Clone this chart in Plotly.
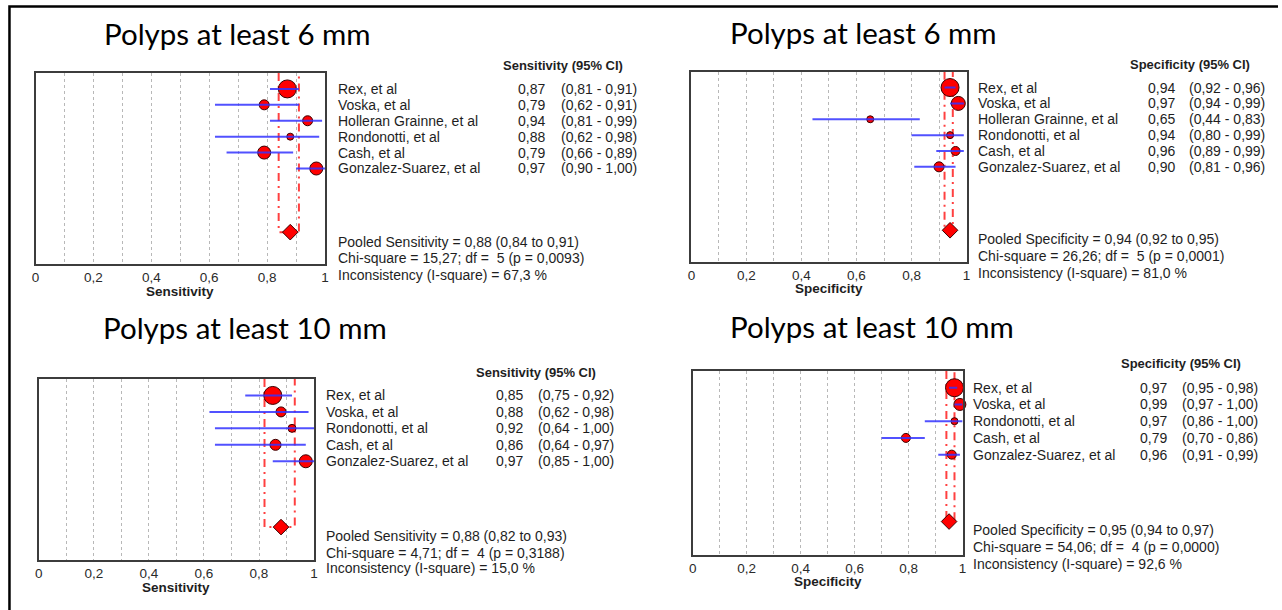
import plotly.graph_objects as go

W, H = 1282, 610

# ---------------- data ----------------
studies_6mm = ["Rex, et al", "Voska, et al", "Holleran Grainne, et al",
               "Rondonotti, et al", "Cash, et al", "Gonzalez-Suarez, et al"]
studies_10mm = ["Rex, et al", "Voska, et al", "Rondonotti, et al",
                "Cash, et al", "Gonzalez-Suarez, et al"]

sens_6mm = [0.87, 0.79, 0.94, 0.88, 0.79, 0.97]
sens_6mm_lo = [0.81, 0.62, 0.81, 0.62, 0.66, 0.90]
sens_6mm_hi = [0.91, 0.91, 0.99, 0.98, 0.89, 1.00]
weight_sens_6mm = [18, 10, 10, 7, 13, 13]
pooled_sens_6mm = [0.88, 0.84, 0.91]
stats_sens_6mm = [15.27, 5, 0.0093, 67.3]   # chi-square, df, p, I-square

spec_6mm = [0.94, 0.97, 0.65, 0.94, 0.96, 0.90]
spec_6mm_lo = [0.92, 0.94, 0.44, 0.80, 0.89, 0.81]
spec_6mm_hi = [0.96, 0.99, 0.83, 0.99, 0.99, 0.96]
weight_spec_6mm = [18, 14, 7, 7, 9, 10]
pooled_spec_6mm = [0.94, 0.92, 0.95]
stats_spec_6mm = [26.26, 5, 0.0001, 81.0]

sens_10mm = [0.85, 0.88, 0.92, 0.86, 0.97]
sens_10mm_lo = [0.75, 0.62, 0.64, 0.64, 0.85]
sens_10mm_hi = [0.92, 0.98, 1.00, 0.97, 1.00]
weight_sens_10mm = [18, 10, 8, 11, 13]
pooled_sens_10mm = [0.88, 0.82, 0.93]
stats_sens_10mm = [4.71, 4, 0.3188, 15.0]

spec_10mm = [0.97, 0.99, 0.97, 0.79, 0.96]
spec_10mm_lo = [0.95, 0.97, 0.86, 0.70, 0.91]
spec_10mm_hi = [0.98, 1.00, 1.00, 0.86, 0.99]
weight_spec_10mm = [18, 12, 7, 9, 9]
pooled_spec_10mm = [0.95, 0.94, 0.97]
stats_spec_10mm = [54.06, 4, 0.0000, 92.6]

tick_vals = [0, 0.2, 0.4, 0.6, 0.8, 1]
tick_text = ["0", "0,2", "0,4", "0,6", "0,8", "1"]

panels = [
    dict(title="Polyps at least 6 mm", measure="Sensitivity", names=studies_6mm,
         est=sens_6mm, lo=sens_6mm_lo, hi=sens_6mm_hi, w=weight_sens_6mm,
         pooled=pooled_sens_6mm, stats=stats_sens_6mm),
    dict(title="Polyps at least 6 mm", measure="Specificity", names=studies_6mm,
         est=spec_6mm, lo=spec_6mm_lo, hi=spec_6mm_hi, w=weight_spec_6mm,
         pooled=pooled_spec_6mm, stats=stats_spec_6mm),
    dict(title="Polyps at least 10 mm", measure="Sensitivity", names=studies_10mm,
         est=sens_10mm, lo=sens_10mm_lo, hi=sens_10mm_hi, w=weight_sens_10mm,
         pooled=pooled_sens_10mm, stats=stats_sens_10mm),
    dict(title="Polyps at least 10 mm", measure="Specificity", names=studies_10mm,
         est=spec_10mm, lo=spec_10mm_lo, hi=spec_10mm_hi, w=weight_spec_10mm,
         pooled=pooled_spec_10mm, stats=stats_spec_10mm),
]

# ---------------- layout geometry (pixels) ----------------
geom = [
    dict(box=(31.7, 323, 73, 264), title=(99, 34), name_x=334, val_x=546, ci_x=558,
         head=(625, 65), pooled_y=(242, 258, 275), axtitle_y=291),
    dict(box=(691.7, 968.6, 71.7, 262), title=(729, 33), name_x=978, val_x=1180, ci_x=1190.5,
         head=(1256, 64), pooled_y=(239, 256, 273), axtitle_y=288),
    dict(box=(35, 312, 379, 560), title=(98, 327), name_x=322, val_x=524, ci_x=535,
         head=(598, 372), pooled_y=(536, 553, 568), axtitle_y=587),
    dict(box=(693, 964.6, 371, 555), title=(729, 326), name_x=973, val_x=1172, ci_x=1183,
         head=(1247, 363), pooled_y=(530, 547, 564), axtitle_y=581),
]


def px(x):
    return x / W


def py(y):
    return 1 - y / H


def dc(v, nd=2):
    return f"{v:.{nd}f}".replace(".", ",")


TXT = "Liberation Sans, Arial, sans-serif"
TXT_COLOR = "#1e1e1e"
TXT_SIZE = 14
RED = "#ff0000"
BLUE = "rgba(50,50,255,0.85)"
GRID = "#b8b8b8"

fig = go.Figure()
annotations = []
layout_axes = {}

for i, (p, g) in enumerate(zip(panels, geom)):
    k = "" if i == 0 else str(i + 1)
    xa, ya = "x" + k, "y" + k
    n = len(p["names"])
    rows = list(range(1, n + 1))
    pooled_row = n + 4
    x0, x1, y0, y1 = g["box"]

    layout_axes["xaxis" + k] = dict(
        domain=[px(x0), px(x1)], anchor=ya, range=[0, 1],
        showline=True, mirror=True, linecolor="#3c3c3c", linewidth=2,
        tickvals=tick_vals, ticktext=tick_text, ticks="",
        tickfont=dict(family=TXT, size=13.5, color="#2a2a2a"),
        showgrid=True, gridcolor=GRID, gridwidth=1, griddash="3px,3px",
        minor=dict(dtick=0.1, tick0=0, showgrid=True, gridcolor=GRID,
                   gridwidth=1, griddash="3px,3px"),
        zeroline=False, fixedrange=True,
    )
    layout_axes["yaxis" + k] = dict(
        domain=[py(y1), py(y0)], anchor=xa, range=[n + 6, 0],
        showline=True, mirror=True, linecolor="#3c3c3c", linewidth=2,
        showticklabels=False, ticks="", showgrid=False, zeroline=False, fixedrange=True,
    )

    pe, pl, ph = p["pooled"]
    # pooled CI bracket
    fig.add_trace(go.Scatter(
        x=[pl, pl, ph, ph], y=[0, pooled_row, pooled_row, 0], mode="lines",
        line=dict(color="rgba(255,30,30,0.85)", width=2, dash="8px,5px,2px,5px"),
        xaxis=xa, yaxis=ya, hoverinfo="skip", showlegend=False, cliponaxis=False))
    # study markers
    fig.add_trace(go.Scatter(
        x=p["est"], y=rows, mode="markers",
        marker=dict(size=p["w"], color=RED, opacity=1, line=dict(color="#3a0000", width=1)),
        xaxis=xa, yaxis=ya, showlegend=False, cliponaxis=False))
    # confidence intervals
    cx, cy = [], []
    for r, lo, hi in zip(rows, p["lo"], p["hi"]):
        cx += [lo, hi, None]
        cy += [r, r, None]
    fig.add_trace(go.Scatter(
        x=cx, y=cy, mode="lines", line=dict(color=BLUE, width=2),
        xaxis=xa, yaxis=ya, hoverinfo="skip", showlegend=False, cliponaxis=False))
    # pooled diamond
    fig.add_trace(go.Scatter(
        x=[pe], y=[pooled_row], mode="markers",
        marker=dict(symbol="diamond", size=12, color=RED, opacity=1,
                    line=dict(color="#3a0000", width=1)),
        xaxis=xa, yaxis=ya, showlegend=False, cliponaxis=False))

    # title
    annotations.append(dict(
        text=p["title"], x=px(g["title"][0]), y=py(g["title"][1]), xref="paper", yref="paper",
        xanchor="left", yanchor="middle", showarrow=False,
        font=dict(family="Lato, Open Sans, sans-serif", size=29.5, color="#000000")))
    # column header
    annotations.append(dict(
        text=f"<b>{p['measure']} (95% CI)</b>", x=px(g["head"][0]), y=py(g["head"][1]),
        xref="paper", yref="paper", xanchor="right", yanchor="middle", showarrow=False,
        font=dict(family=TXT, size=13, color=TXT_COLOR)))
    # rows
    for r, name, e, lo, hi in zip(rows, p["names"], p["est"], p["lo"], p["hi"]):
        annotations.append(dict(text=name, x=px(g["name_x"]), y=r, xref="paper", yref=ya,
                                xanchor="left", yanchor="middle", showarrow=False,
                                font=dict(family=TXT, size=TXT_SIZE, color=TXT_COLOR)))
        annotations.append(dict(text=dc(e), x=px(g["val_x"]), y=r, xref="paper", yref=ya,
                                xanchor="right", yanchor="middle", showarrow=False,
                                font=dict(family=TXT, size=TXT_SIZE, color=TXT_COLOR)))
        annotations.append(dict(text=f"({dc(lo)} - {dc(hi)})", x=px(g["ci_x"]), y=r,
                                xref="paper", yref=ya, xanchor="left", yanchor="middle",
                                showarrow=False,
                                font=dict(family=TXT, size=TXT_SIZE, color=TXT_COLOR)))
    chi, df, pv, i2 = p["stats"]
    lines = [
        f"Pooled {p['measure']} = {dc(pe)} ({dc(pl)} to {dc(ph)})",
        f"Chi-square = {dc(chi)}; df =\u00a0 {df} (p = {dc(pv, 4)})",
        f"Inconsistency (I-square) = {dc(i2, 1)} %",
    ]
    for t, yy in zip(lines, g["pooled_y"]):
        annotations.append(dict(text=t, x=px(g["name_x"]), y=py(yy), xref="paper", yref="paper",
                                xanchor="left", yanchor="middle", showarrow=False,
                                font=dict(family=TXT, size=TXT_SIZE, color=TXT_COLOR)))
    # axis title
    annotations.append(dict(
        text=f"<b>{p['measure']}</b>", x=px((x0 + x1) / 2), y=py(g["axtitle_y"]),
        xref="paper", yref="paper", xanchor="center", yanchor="middle", showarrow=False,
        font=dict(family=TXT, size=13.5, color=TXT_COLOR)))

# outer frame (left and top edges)
shapes = [dict(type="path", xref="paper", yref="paper",
               path=f"M {px(5.5)} 0 L {px(5.5)} {py(6.5)} L 1 {py(6.5)}",
               line=dict(color="#000000", width=2.5))]

fig.update_layout(
    width=W, height=H, margin=dict(l=0, r=0, t=0, b=0),
    paper_bgcolor="white", plot_bgcolor="white",
    separators=", ", showlegend=False,
    annotations=annotations, shapes=shapes,
    **layout_axes,
)

fig.write_html(
    "out.html",
    config={"displayModeBar": False},
    post_script="document.body.style.margin='0';document.body.style.overflow='hidden';",
)
